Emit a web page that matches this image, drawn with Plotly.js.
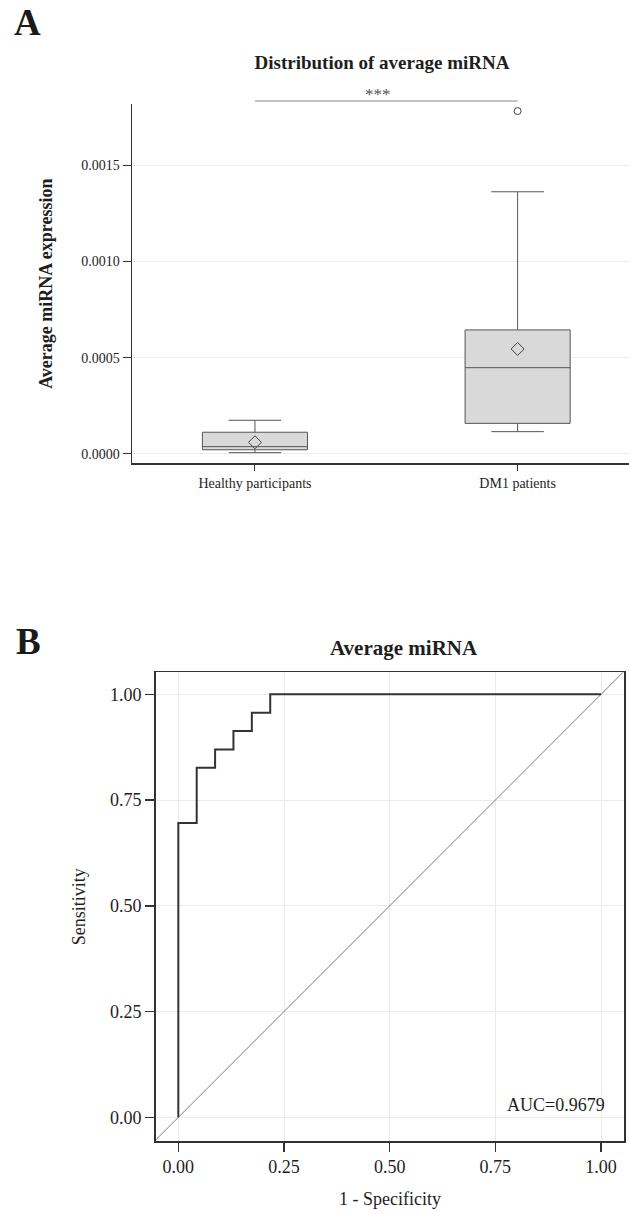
<!DOCTYPE html>
<html>
<head>
<meta charset="utf-8">
<script src="https://cdn.plot.ly/plotly-3.0.1.min.js"></script>
<style>html,body{margin:0;padding:0;background:#fff;}#chart{width:629px;height:1214px;}</style>
</head>
<body>
<div id="chart"></div>
<script>
// ---- Panel A data (box plot summaries) ----
var groups = ['Healthy participants', 'DM1 patients'];
var q1Vals = [0.000022, 0.000159];
var medianVals = [0.000038, 0.000448];
var q3Vals = [0.000113, 0.000644];
var lowerWhisker = [0.0000067, 0.000116];
var upperWhisker = [0.000175, 0.001361];
var meanVals = [0.0000607, 0.000545];
var outlierGroup = ['DM1 patients'];
var outlierVals = [0.00178];
var yTickVals = [0, 0.0005, 0.0010, 0.0015];
var yTickText = ['0.0000', '0.0005', '0.0010', '0.0015'];

// ---- Panel B data (ROC curve) ----
var fpr = [0, 0, 0.0435, 0.0435, 0.0870, 0.0870, 0.1304, 0.1304, 0.1739, 0.1739, 0.2174, 0.2174, 1.0];
var tpr = [0, 0.6957, 0.6957, 0.8261, 0.8261, 0.8696, 0.8696, 0.9130, 0.9130, 0.9565, 0.9565, 1.0, 1.0];
var refLine = [-0.1, 1.1];
var rocTicks = [0, 0.25, 0.5, 0.75, 1.0];
var rocTickText = ['0.00', '0.25', '0.50', '0.75', '1.00'];
var aucLabel = 'AUC=0.9679';

var W = 629, H = 1214;
function px(x) { return x / W; }
function py(y) { return 1 - y / H; }

var serif = 'Liberation Serif, Times New Roman, serif';
var dark = '#333333';
var textCol = '#1e1e1e';

var traces = [
  {
    type: 'box', xaxis: 'x', yaxis: 'y',
    x: groups, q1: q1Vals, median: medianVals, q3: q3Vals,
    lowerfence: lowerWhisker, upperfence: upperWhisker,
    fillcolor: '#d9d9d9', line: {color: '#555555', width: 1},
    whiskerwidth: 0.5, width: 0.4, boxpoints: false, hoverinfo: 'skip'
  },
  {
    type: 'scatter', mode: 'markers', xaxis: 'x', yaxis: 'y',
    x: groups, y: meanVals,
    marker: {symbol: 'diamond-open', size: 10, color: '#444444', line: {width: 1}},
    cliponaxis: false
  },
  {
    type: 'scatter', mode: 'markers', xaxis: 'x', yaxis: 'y',
    x: outlierGroup, y: outlierVals,
    marker: {symbol: 'circle-open', size: 7, color: '#444444', line: {width: 1}},
    cliponaxis: false
  },
  {
    type: 'scatter', mode: 'lines', xaxis: 'x2', yaxis: 'y2',
    x: refLine, y: refLine,
    line: {color: '#7a7a7a', width: 1}
  },
  {
    type: 'scatter', mode: 'lines', xaxis: 'x2', yaxis: 'y2',
    x: fpr, y: tpr,
    line: {color: dark, width: 2}
  }
];

var layout = {
  width: W, height: H,
  margin: {l: 0, r: 0, t: 0, b: 0},
  paper_bgcolor: '#ffffff', plot_bgcolor: '#ffffff',
  showlegend: false,
  font: {family: serif, color: textCol},
  title: {
    text: '<b>Distribution of average miRNA</b>',
    font: {family: serif, size: 19, color: textCol},
    x: px(382), xref: 'paper', xanchor: 'center',
    y: py(62), yref: 'paper', yanchor: 'middle'
  },
  xaxis: {
    domain: [px(132), 1], anchor: 'y',
    type: 'category', range: [-0.468, 1.424],
    showline: true, linecolor: dark, linewidth: 1.5,
    ticks: 'outside', ticklen: 6, tickcolor: dark, tickwidth: 1,
    showgrid: false, zeroline: false,
    tickfont: {family: serif, size: 14, color: textCol}
  },
  yaxis: {
    domain: [py(463.3), py(104)], anchor: 'x',
    range: [-0.0000483, 0.0018166],
    tickvals: yTickVals, ticktext: yTickText,
    showline: true, linecolor: dark, linewidth: 1.5,
    ticks: 'outside', ticklen: 8, tickcolor: dark, tickwidth: 1,
    showgrid: true, gridcolor: '#ececec', gridwidth: 1, zeroline: false,
    tickfont: {family: serif, size: 14, color: textCol},
    title: {text: '<b>Average miRNA expression</b>', font: {family: serif, size: 18, color: textCol}, standoff: 24}
  },
  xaxis2: {
    domain: [px(155.7), px(624.3)], anchor: 'y2',
    range: [-0.0535, 1.055],
    tickvals: rocTicks, ticktext: rocTickText,
    showline: true, mirror: true, linecolor: dark, linewidth: 1.5,
    ticks: 'outside', ticklen: 9, tickcolor: dark, tickwidth: 1.5,
    showgrid: true, gridcolor: '#ebebeb', gridwidth: 1, zeroline: false,
    tickfont: {family: serif, size: 18, color: textCol},
    title: {text: '1 - Specificity', font: {family: serif, size: 18, color: textCol}, standoff: 16}
  },
  yaxis2: {
    domain: [py(1141), py(672.3)], anchor: 'x2',
    range: [-0.056, 1.052],
    tickvals: rocTicks, ticktext: rocTickText,
    showline: true, mirror: true, linecolor: dark, linewidth: 1.5,
    ticks: 'outside', ticklen: 9, tickcolor: dark, tickwidth: 1.5,
    showgrid: true, gridcolor: '#ebebeb', gridwidth: 1, zeroline: false,
    tickfont: {family: serif, size: 18, color: textCol},
    title: {text: 'Sensitivity', font: {family: serif, size: 18, color: textCol}, standoff: 20}
  },
  shapes: [
    {type: 'line', xref: 'x', yref: 'paper', x0: 0, x1: 1, y0: py(101), y1: py(101),
     line: {color: '#8a8a8a', width: 1}}
  ],
  annotations: [
    {text: '<b>A</b>', xref: 'paper', yref: 'paper', x: px(12), y: py(22), xanchor: 'left', yanchor: 'middle',
     showarrow: false, font: {family: serif, size: 37, color: '#1a1a1a'}},
    {text: '<b>B</b>', xref: 'paper', yref: 'paper', x: px(14), y: py(642), xanchor: 'left', yanchor: 'middle',
     showarrow: false, font: {family: serif, size: 37, color: '#1a1a1a'}},
    {text: '***', xref: 'x', yref: 'paper', x: 0.47, y: py(94), xanchor: 'center', yanchor: 'middle',
     showarrow: false, font: {family: serif, size: 17, color: '#555555'}},
    {text: '<b>Average miRNA</b>', xref: 'paper', yref: 'paper', x: px(404), y: py(648), xanchor: 'center', yanchor: 'middle',
     showarrow: false, font: {family: serif, size: 21, color: textCol}},
    {text: aucLabel, xref: 'x2', yref: 'y2', x: 1.013, y: 0.029, xanchor: 'right', yanchor: 'middle',
     showarrow: false, font: {family: serif, size: 18, color: textCol}}
  ]
};

Plotly.newPlot('chart', traces, layout, {staticPlot: true, displayModeBar: false});
</script>
</body>
</html>
